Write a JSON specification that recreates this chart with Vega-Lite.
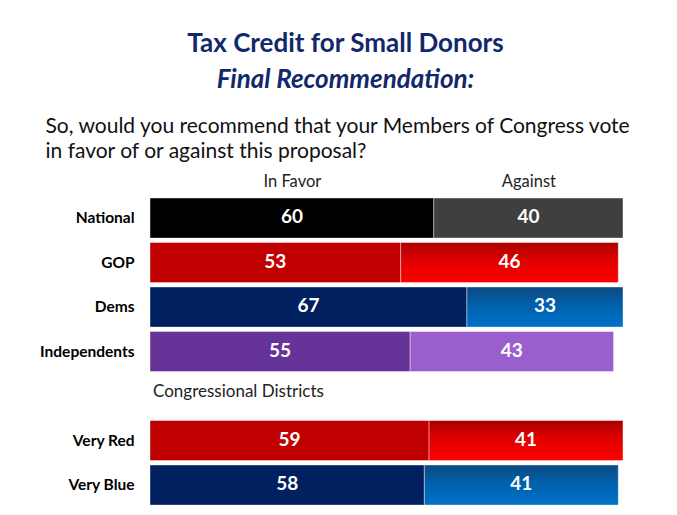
{
  "$schema": "https://vega.github.io/schema/vega-lite/v6.json",
  "width": 473,
  "height": 311.5,
  "autosize": {"type": "none"},
  "padding": {"left": 150, "top": 195.8, "right": 54, "bottom": 7.7},
  "background": "#ffffff",
  "config": {"view": {"stroke": null}, "font": "Lato"},
  "title": {
    "text": "Tax Credit for Small Donors",
    "subtitle": "Final Recommendation:",
    "anchor": "middle",
    "dx": -41,
    "dy": -19,
    "font": "Lato",
    "fontSize": 26,
    "fontWeight": "bold",
    "color": "#12286B",
    "subtitleFont": "Lato",
    "subtitleFontSize": 26,
    "subtitleFontWeight": "bold",
    "subtitleFontStyle": "italic",
    "subtitleColor": "#12286B",
    "subtitlePadding": 10
  },
  "data": {
    "values": [
      {"group": "National", "response": "In Favor", "value": 60, "order": 1},
      {"group": "National", "response": "Against", "value": 40, "order": 2},
      {"group": "GOP", "response": "In Favor", "value": 53, "order": 1},
      {"group": "GOP", "response": "Against", "value": 46, "order": 2},
      {"group": "Dems", "response": "In Favor", "value": 67, "order": 1},
      {"group": "Dems", "response": "Against", "value": 33, "order": 2},
      {"group": "Independents", "response": "In Favor", "value": 55, "order": 1},
      {"group": "Independents", "response": "Against", "value": 43, "order": 2},
      {"group": "gap", "response": "label", "value": 0, "order": 1, "label": "Congressional Districts"},
      {"group": "Very Red", "response": "In Favor", "value": 59, "order": 1},
      {"group": "Very Red", "response": "Against", "value": 41, "order": 2},
      {"group": "Very Blue", "response": "In Favor", "value": 58, "order": 1},
      {"group": "Very Blue", "response": "Against", "value": 41, "order": 2}
    ]
  },
  "transform": [
    {"stack": "value", "groupby": ["group"], "sort": [{"field": "order"}], "as": ["x0", "x1"]},
    {"calculate": "(datum.x0 + datum.x1) / 2", "as": "mid"},
    {"calculate": "datum.group + '|' + datum.response", "as": "key"}
  ],
  "encoding": {
    "y": {
      "field": "group",
      "type": "nominal",
      "scale": {
        "domain": ["National", "GOP", "Dems", "Independents", "gap", "Very Red", "Very Blue"],
        "paddingInner": 0.1,
        "paddingOuter": 0.05
      },
      "axis": {
        "title": null,
        "domain": false,
        "ticks": false,
        "labelPadding": 16,
        "labelFont": "Lato",
        "labelFontSize": 15.5,
        "labelFontWeight": "bold",
        "labelColor": "#000000",
        "labelExpr": "datum.value === 'gap' ? '' : datum.value"
      }
    }
  },
  "layer": [
    {
      "transform": [{"filter": "datum.group !== 'gap'"}],
      "mark": {"type": "bar", "stroke": "#ffffff", "strokeWidth": 1, "strokeOpacity": 0.4},
      "encoding": {
        "x": {
          "field": "x0",
          "type": "quantitative",
          "scale": {"domain": [0, 100], "nice": false},
          "axis": {
            "orient": "top",
            "values": [30, 80],
            "labelExpr": "datum.value === 30 ? 'In Favor' : 'Against'",
            "domain": false,
            "ticks": false,
            "grid": false,
            "labelFont": "Lato",
            "labelFontSize": 16.5,
            "labelColor": "#222222",
            "labelPadding": 6,
            "title": ["So, would you recommend that your Members of Congress vote", "in favor of or against this proposal?"],
            "titleFont": "Lato",
            "titleFontSize": 21,
            "titleFontWeight": "normal",
            "titleColor": "#111111",
            "titleAnchor": "start",
            "titleAlign": "left",
            "titleBaseline": "top",
            "titleX": -105,
            "titleY": -80,
            "titleLineHeight": 25
          }
        },
        "x2": {"field": "x1"},
        "fill": {
          "field": "key",
          "type": "nominal",
          "legend": null,
          "scale": {
            "domain": ["National|In Favor", "National|Against", "GOP|In Favor", "GOP|Against", "Dems|In Favor", "Dems|Against", "Independents|In Favor", "Independents|Against", "Very Red|In Favor", "Very Red|Against", "Very Blue|In Favor", "Very Blue|Against"],
            "range": ["#000000", "#3F3F3F", "#C00000", "#E80000", "#002060", "#0068B8", "#663399", "#9B5FCD", "#C00000", "#E80000", "#002060", "#0068B8"]
          },
          "condition": [
            {
              "test": "datum.response === 'Against' && (datum.group === 'GOP' || datum.group === 'Very Red')",
              "value": {"gradient": "linear", "x1": 0, "y1": 0, "x2": 0, "y2": 1, "stops": [{"offset": 0, "color": "#A80000"}, {"offset": 0.45, "color": "#E00000"}, {"offset": 1, "color": "#FF0000"}]}
            },
            {
              "test": "datum.response === 'Against' && (datum.group === 'Dems' || datum.group === 'Very Blue')",
              "value": {"gradient": "linear", "x1": 0, "y1": 0, "x2": 0, "y2": 1, "stops": [{"offset": 0, "color": "#0C4A80"}, {"offset": 0.5, "color": "#0062B0"}, {"offset": 1, "color": "#0072C8"}]}
            }
          ]
        }
      }
    },
    {
      "transform": [{"filter": "datum.group !== 'gap'"}],
      "mark": {"type": "text", "color": "#ffffff", "font": "Lato", "fontSize": 19, "fontWeight": "bold", "dy": -1},
      "encoding": {
        "x": {"field": "mid", "type": "quantitative"},
        "text": {"field": "value", "type": "quantitative"}
      }
    },
    {
      "transform": [{"filter": "datum.group === 'gap'"}],
      "mark": {"type": "text", "align": "left", "color": "#222222", "font": "Lato", "fontSize": 17, "dx": 3, "dy": -4},
      "encoding": {
        "x": {"field": "x0", "type": "quantitative"},
        "text": {"field": "label", "type": "nominal"}
      }
    }
  ]
}
